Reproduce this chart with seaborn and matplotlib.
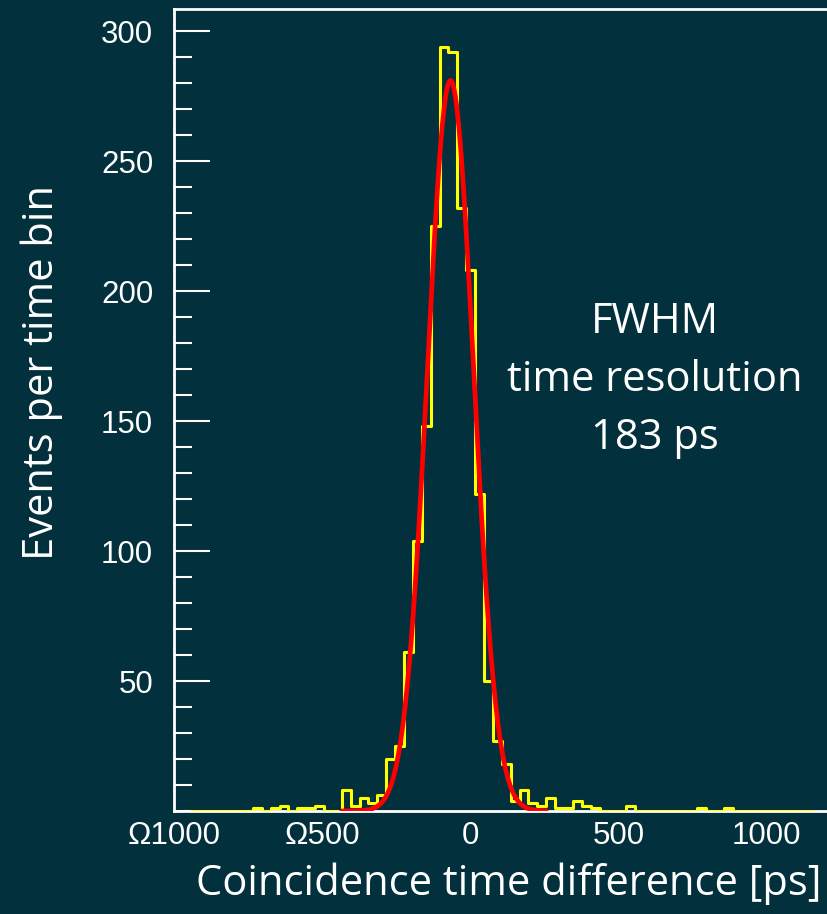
import numpy as np
import pandas as pd
import matplotlib
matplotlib.use("Agg")
import matplotlib.pyplot as plt
import seaborn as sns
from matplotlib.ticker import MultipleLocator, FixedLocator

# ---- data ----
bin_start = -944          # ps, left edge of first bin
bin_width = 30            # ps
counts = [0, 0, 0, 0, 0, 0, 0, 1, 0, 1,
          2, 0, 1, 1, 2, 0, 0, 8, 2, 5,
          3, 6, 20, 25, 61, 104, 148, 225, 294, 292,
          232, 208, 122, 50, 27, 18, 4, 8, 3, 2,
          5, 1, 1, 4, 2, 1, 0, 0, 0, 2,
          0, 0, 0, 0, 0, 0, 0, 1, 0, 0,
          1, 0, 0, 0, 0, 0, 0, 0, 0, 0]

# Gaussian fit parameters
fit_mean = -67.0          # ps
fit_fwhm = 183.0          # ps
fit_amp = 281.0
fit_lo, fit_hi = -434, 256

x_ticks = [-1000, -500, 0, 500, 1000]
x_tick_labels = ["\u03a91000", "\u03a9500", "0", "500", "1000"]
y_ticks = [50, 100, 150, 200, 250, 300]

x_label = "Coincidence time difference [ps]"
y_label = "Events per time bin"
annotation = "FWHM\ntime resolution\n183 ps"

# ---- build frames ----
edges = (bin_start + bin_width * np.arange(len(counts) + 1)).tolist()
centers = [e + bin_width / 2 for e in edges[:-1]]
hist_df = pd.DataFrame({"t": centers, "n": counts})

sigma = fit_fwhm / (2 * np.sqrt(2 * np.log(2)))
fx = np.linspace(fit_lo, fit_hi, 600)
fit_df = pd.DataFrame({"t": fx, "y": fit_amp * np.exp(-0.5 * ((fx - fit_mean) / sigma) ** 2)})

# ---- style ----
bg = "#02303c"
sns.set_theme(style="white")
plt.rcParams["font.family"] = ["Open Sans", "DejaVu Sans"]

W, H = 827, 914
fig = plt.figure(figsize=(W / 100, H / 100), dpi=100, facecolor=bg)
ax = fig.add_axes([174 / W, 1 - 811 / H, 652 / W, 802 / H])
ax.set_facecolor(bg)

sns.histplot(data=hist_df, x="t", weights="n", bins=edges, element="step",
             fill=False, color="#ffff00", linewidth=2.2, ax=ax, zorder=3)
sns.lineplot(data=fit_df, x="t", y="y", color="#ff0000", linewidth=3.4,
             ax=ax, zorder=4)

ax.set_xlim(-1000, 1200)
ax.set_ylim(0, 308.5)

for side in ["left", "bottom", "top"]:
    ax.spines[side].set_color("white")
    ax.spines[side].set_linewidth(2)
ax.spines["right"].set_visible(False)

ax.xaxis.set_major_locator(FixedLocator(x_ticks))
ax.set_xticklabels(x_tick_labels)
ax.tick_params(axis="x", length=0, pad=7, labelsize=22.5, labelcolor="white")
for lab in ax.get_xticklabels():
    lab.set_fontfamily(["Liberation Sans", "DejaVu Sans"])

ax.yaxis.set_major_locator(FixedLocator(y_ticks))
ax.yaxis.set_minor_locator(MultipleLocator(10))
ax.tick_params(axis="y", which="major", direction="in", length=26, width=1.5,
               color="white", pad=15, labelsize=22.5, labelcolor="white", left=True)
ax.tick_params(axis="y", which="minor", direction="in", length=13, width=1.5,
               color="white", left=True)
for lab in ax.get_yticklabels():
    lab.set_fontfamily(["Liberation Sans", "DejaVu Sans"])

ax.set_xlabel(x_label, fontsize=30, color="white")
ax.xaxis.set_label_coords((821 - 174) / 652, -(884 - 811) / 802)
ax.xaxis.label.set_horizontalalignment("right")
ax.xaxis.label.set_verticalalignment("center")
ax.set_ylabel(y_label, fontsize=30, color="white")
ax.yaxis.set_label_coords((42 - 174) / 652, (811 - 372) / 802)
ax.yaxis.label.set_verticalalignment("center")

ax.text((655 - 174) / 652, (811 - 380) / 802, annotation, transform=ax.transAxes,
        ha="center", va="center", fontsize=30, color="white", linespacing=1.5)

fig.savefig("out.png", dpi=100, facecolor=bg)
